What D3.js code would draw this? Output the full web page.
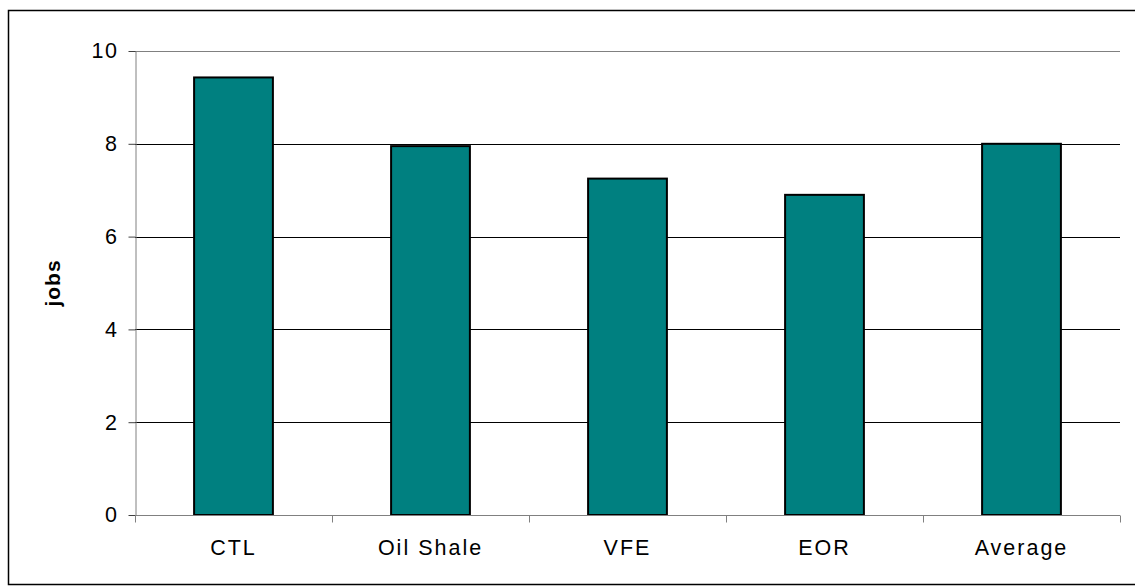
<!DOCTYPE html>
<html>
<head>
<meta charset="utf-8">
<script src="https://cdn.jsdelivr.net/npm/d3@7"></script>
<style>
  body { margin: 0; background: #fff; }
  text { font-family: "Liberation Sans", Arial, sans-serif; }
</style>
</head>
<body>
<svg id="chart" width="1135" height="586"></svg>
<script>
let categories = ["CTL", "Oil Shale", "VFE", "EOR", "Average"];
let jobs = [9.43, 7.95, 7.25, 6.9, 8.0];
let yTicks = [0, 2, 4, 6, 8, 10];

let attr = {
  "left": 135,
  "right": 1120,
  "top": 51,
  "bottom": 515
};
let barColor = "#008080";
let textColor = "#000";

let svg = d3.select("#chart");

// outer frame
svg.append("rect")
  .attr("x", 8.5)
  .attr("y", 10.5)
  .attr("width", 1140)
  .attr("height", 574)
  .style("fill", "none")
  .style("stroke", "#000")
  .style("stroke-width", 1.5);

let xScale = d3.scaleBand()
  .domain(categories)
  .range([attr.left, attr.right])
  .paddingInner(0.6)
  .paddingOuter(0.3);

let yScale = d3.scaleLinear()
  .domain([0, 10])
  .range([attr.bottom, attr.top]);

// gridlines
svg.selectAll(".grid")
  .data(yTicks.filter(d => d > 0))
  .enter()
  .append("line")
    .attr("x1", attr.left)
    .attr("x2", attr.right)
    .attr("y1", d => Math.round(yScale(d)) + 0.5)
    .attr("y2", d => Math.round(yScale(d)) + 0.5)
    .style("stroke", d => d == 10 ? "#808080" : "#000")
    .style("stroke-width", 1);

// bars
svg.selectAll(".bar")
  .data(jobs)
  .enter()
  .append("rect")
    .attr("x", (d, i) => xScale(categories[i]))
    .attr("y", d => yScale(d))
    .attr("width", xScale.bandwidth())
    .attr("height", d => yScale(0) - yScale(d))
    .style("fill", barColor)
    .style("stroke", "#000")
    .style("stroke-width", 2);

// y axis
let yAxis = svg.append("g")
  .attr("transform", "translate(" + (attr.left + 0.5) + ",0)")
  .call(d3.axisLeft(yScale).tickValues(yTicks).tickSize(7).tickPadding(10).tickSizeOuter(0));
yAxis.select(".domain").style("stroke", "#808080");
yAxis.selectAll(".tick line").style("stroke", "#404040");
yAxis.selectAll("text")
  .style("font-size", "21.5px")
  .style("letter-spacing", "1.5px")
  .style("fill", textColor);

// x axis with ticks between categories
let xAxis = svg.append("g")
  .attr("transform", "translate(0," + (attr.bottom + 0.5) + ")");
xAxis.append("line")
  .attr("x1", attr.left)
  .attr("x2", attr.right)
  .style("stroke", "#808080");
let step = xScale.step();
xAxis.selectAll(".xtick")
  .data(d3.range(categories.length + 1))
  .enter()
  .append("line")
    .attr("x1", d => attr.left + d * step + 0.5)
    .attr("x2", d => attr.left + d * step + 0.5)
    .attr("y1", 0)
    .attr("y2", 7)
    .style("stroke", "#808080");
xAxis.selectAll(".xlabel")
  .data(categories)
  .enter()
  .append("text")
    .attr("x", d => xScale(d) + xScale.bandwidth() / 2)
    .attr("y", 39)
    .text(d => d)
    .style("font-size", "21.5px")
    .style("letter-spacing", "2px")
    .style("text-anchor", "middle")
    .style("fill", textColor);

// y axis title
svg.append("text")
  .attr("transform", "translate(60," + (attr.top + attr.bottom) / 2 + ") rotate(-90)")
  .text("jobs")
  .style("font-size", "21px")
  .style("font-weight", "bold")
  .style("letter-spacing", "1px")
  .style("text-anchor", "middle")
  .style("fill", textColor);
</script>
</body>
</html>
